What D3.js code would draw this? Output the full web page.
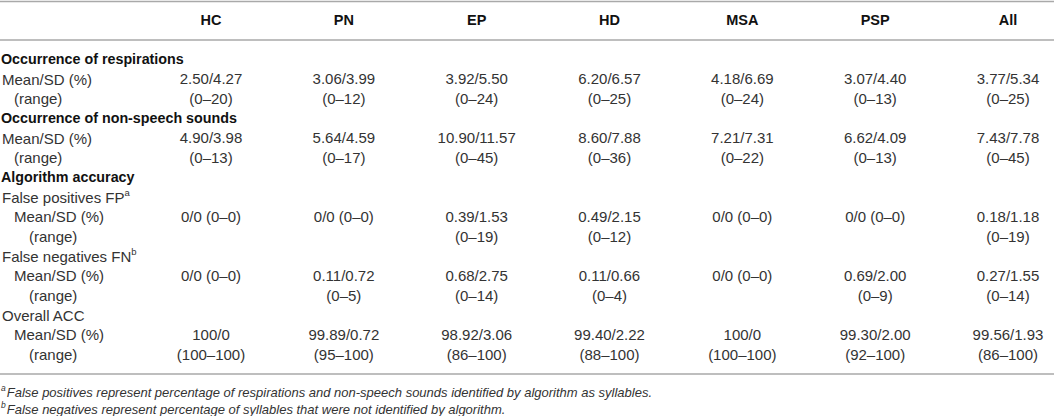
<!DOCTYPE html>
<html>
<head>
<meta charset="utf-8">
<script src="https://cdn.jsdelivr.net/npm/d3@7"></script>
<style>
  body { margin: 0; background: #fff; }
  svg { display: block; font-family: "Liberation Sans", Arial, sans-serif; }
</style>
</head>
<body>
<svg id="tbl" width="1054" height="416"></svg>
<script>
// table contents
var groups = ["HC", "PN", "EP", "HD", "MSA", "PSP", "All"];

var respMean  = ["2.50/4.27", "3.06/3.99", "3.92/5.50", "6.20/6.57", "4.18/6.69", "3.07/4.40", "3.77/5.34"];
var respRange = ["(0–20)", "(0–12)", "(0–24)", "(0–25)", "(0–24)", "(0–13)", "(0–25)"];

var nssMean  = ["4.90/3.98", "5.64/4.59", "10.90/11.57", "8.60/7.88", "7.21/7.31", "6.62/4.09", "7.43/7.78"];
var nssRange = ["(0–13)", "(0–17)", "(0–45)", "(0–36)", "(0–22)", "(0–13)", "(0–45)"];

var fpMean  = ["0/0 (0–0)", "0/0 (0–0)", "0.39/1.53", "0.49/2.15", "0/0 (0–0)", "0/0 (0–0)", "0.18/1.18"];
var fpRange = ["", "", "(0–19)", "(0–12)", "", "", "(0–19)"];

var fnMean  = ["0/0 (0–0)", "0.11/0.72", "0.68/2.75", "0.11/0.66", "0/0 (0–0)", "0.69/2.00", "0.27/1.55"];
var fnRange = ["", "(0–5)", "(0–14)", "(0–4)", "", "(0–9)", "(0–14)"];

var accMean  = ["100/0", "99.89/0.72", "98.92/3.06", "99.40/2.22", "100/0", "99.30/2.00", "99.56/1.93"];
var accRange = ["(100–100)", "(95–100)", "(86–100)", "(88–100)", "(100–100)", "(92–100)", "(86–100)"];

var rows = [
  { label: "Occurrence of respirations", section: true },
  { label: "Mean/SD (%)", level: 0, values: respMean },
  { label: "(range)", level: 1, values: respRange },
  { label: "Occurrence of non-speech sounds", section: true },
  { label: "Mean/SD (%)", level: 0, values: nssMean },
  { label: "(range)", level: 1, values: nssRange },
  { label: "Algorithm accuracy", section: true },
  { label: "False positives FP", sup: "a", level: 0 },
  { label: "Mean/SD (%)", level: 1, values: fpMean },
  { label: "(range)", level: 2, values: fpRange },
  { label: "False negatives FN", sup: "b", level: 0 },
  { label: "Mean/SD (%)", level: 1, values: fnMean },
  { label: "(range)", level: 2, values: fnRange },
  { label: "Overall ACC", level: 0 },
  { label: "Mean/SD (%)", level: 1, values: accMean },
  { label: "(range)", level: 2, values: accRange }
];

var footnotes = [
  { mark: "a", text: "False positives represent percentage of respirations and non-speech sounds identified by algorithm as syllables." },
  { mark: "b", text: "False negatives represent percentage of syllables that were not identified by algorithm." }
];

var svg = d3.select("#tbl");
var ink = "#333", rule = "#a9a9a9";

// column centres
var x = d3.scalePoint().domain(groups).range([211, 1008]);
// row centres
var y = d3.scaleLinear().domain([0, rows.length - 1]).range([59, 354]);
var indent = [2, 14, 29];

// rules
[1.5, 40, 374].forEach(function(yy) {
  svg.append("line").attr("x1", 0).attr("x2", 1054)
    .attr("y1", yy).attr("y2", yy)
    .attr("stroke", rule).attr("stroke-width", 1.6);
});

// header
svg.append("g").selectAll("text")
  .data(groups)
  .enter().append("text")
  .attr("x", function(d) { return x(d); })
  .attr("y", 20)
  .attr("text-anchor", "middle")
  .attr("dominant-baseline", "central")
  .attr("font-weight", "bold")
  .attr("font-size", 14.5)
  .attr("fill", "#111")
  .text(function(d) { return d; });

// row labels
var lab = svg.append("g").selectAll("text")
  .data(rows)
  .enter().append("text")
  .attr("x", function(d) { return d.section ? 1 : indent[d.level]; })
  .attr("y", function(d, i) { return y(i); })
  .attr("dominant-baseline", "central")
  .attr("font-size", function(d) { return d.section ? 14.3 : 15; })
  .attr("font-weight", function(d) { return d.section ? "bold" : "normal"; })
  .attr("fill", function(d) { return d.section ? "#111" : ink; });

lab.append("tspan").text(function(d) { return d.label; });
lab.filter(function(d) { return d.sup; })
  .append("tspan")
  .attr("font-size", 9.5)
  .attr("dy", -5)
  .text(function(d) { return d.sup; });

// cell values
rows.forEach(function(r, i) {
  if (!r.values) return;
  svg.append("g").selectAll("text")
    .data(r.values)
    .enter().append("text")
    .attr("x", function(d, j) { return x(groups[j]); })
    .attr("y", y(i))
    .attr("text-anchor", "middle")
    .attr("dominant-baseline", "central")
    .attr("font-size", 15)
    .attr("fill", ink)
    .text(function(d) { return d; });
});

// footnotes
var fn = svg.append("g").selectAll("text")
  .data(footnotes)
  .enter().append("text")
  .attr("x", 1)
  .attr("y", function(d, i) { return 392 + i * 17; })
  .attr("dominant-baseline", "central")
  .attr("font-style", "italic")
  .attr("font-size", 13)
  .attr("fill", ink);
fn.append("tspan").attr("font-size", 8.5).attr("dy", -4).text(function(d) { return d.mark; });
fn.append("tspan").attr("dy", 4).attr("dx", 1).text(function(d) { return d.text; });
</script>
</body>
</html>
